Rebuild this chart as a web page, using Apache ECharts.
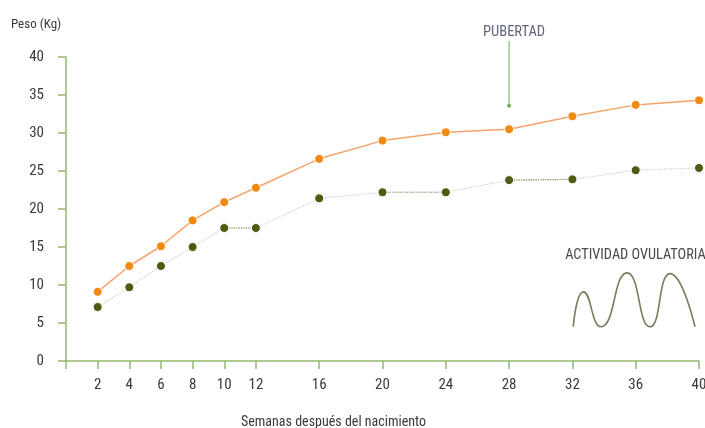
<!DOCTYPE html>
<html><head><meta charset="utf-8">
<script src="https://cdn.jsdelivr.net/npm/echarts@6/dist/echarts.min.js"></script>
<style>html,body{margin:0;padding:0;background:#fff}#c{width:705px;height:428px}</style>
</head><body><div id="c"></div>
<script>
var weeks = [2,4,6,8,10,12,16,20,24,28,32,36,40];
var pesoPuberal = [9.1,12.5,15.1,18.5,20.9,22.8,26.6,29.0,30.1,30.5,32.2,33.7,34.3];
var pesoOtra = [7.1,9.7,12.5,15.0,17.5,17.5,21.4,22.2,22.2,23.8,23.9,25.1,25.4];
var plateauStarts = [10,20,28];
var xTickLabels = [2,4,6,8,10,12,16,20,24,28,32,36,40];
var ovulX = [32.05,32.7,33.8,35.45,36.9,38.17,39.75];
var ovulY = [4.5,9.1,4.5,11.6,4.5,11.5,4.5];
var pubertadWeek = 28;

var FONT = "'Liberation Sans Narrow','Roboto Condensed','Liberation Sans',sans-serif";
var AX = '#93b86e';
var TXT = '#3a3a3a';

function pairs(xs, ys){ return xs.map(function(x,i){return [x, ys[i]];}); }
var plateauData = [];
plateauStarts.forEach(function(w){
  var i = weeks.indexOf(w);
  plateauData.push([weeks[i], pesoOtra[i]], [weeks[i+1], pesoOtra[i+1]], [weeks[i+1], '-']);
});

var chart = echarts.init(document.getElementById('c'), null, {renderer:'canvas'});
chart.setOption({
  animation:false,
  textStyle:{fontFamily:FONT},
  title:[
    {text:'Peso (Kg)', left:6, top:13, textStyle:{fontFamily:FONT, fontSize:13, fontWeight:'normal', color:TXT}},
    {text:'Semanas después del nacimiento', left:236, top:410, textStyle:{fontFamily:FONT, fontSize:14, fontWeight:'normal', color:TXT}}
  ],
  grid:{left:66, right:6, top:57, bottom:67, containLabel:false, outerBoundsMode:'none'},
  xAxis:{type:'value', min:0, max:40,
    axisLine:{show:true, onZero:false, lineStyle:{color:AX, width:1.5}},
    axisTick:{show:true, length:8, inside:false, customValues:[0].concat(xTickLabels), lineStyle:{color:AX, width:1.5}},
    axisLabel:{customValues:xTickLabels, margin:17, fontSize:15, color:TXT, fontFamily:FONT},
    splitLine:{show:false}},
  yAxis:{type:'value', min:0, max:40, interval:5,
    axisLine:{show:true, lineStyle:{color:AX, width:1.5}},
    axisTick:{show:true, length:8, lineStyle:{color:AX, width:1.5}},
    axisLabel:{margin:22, fontSize:15, color:TXT, fontFamily:FONT},
    splitLine:{show:false}},
  series:[
    {type:'line', data:pairs(weeks,pesoOtra), symbol:'circle', symbolSize:9, z:3, clip:false,
      itemStyle:{color:'#4c5c12', borderColor:'#fff', borderWidth:1},
      lineStyle:{color:'#cfcfc4', width:1.2, type:'dotted'}},
    {type:'line', data:plateauData, symbol:'none', z:2, connectNulls:false,
      lineStyle:{color:'#5b6a22', width:1.2, type:'dotted'}},
    {type:'line', data:pairs(weeks,pesoPuberal), symbol:'circle', symbolSize:9, z:4, clip:false,
      itemStyle:{color:'#f08a12', borderColor:'#fff', borderWidth:1},
      lineStyle:{color:'#f5a36a', width:1.5}},
    {type:'line', data:pairs(ovulX,ovulY), symbol:'none', smooth:0.55, z:2,
      lineStyle:{color:'#7a7a5c', width:1.6}}
  ]
});

var pTop = chart.convertToPixel({gridIndex:0}, [pubertadWeek, 40]);
var pBot = chart.convertToPixel({gridIndex:0}, [pubertadWeek, 33.6]);
var oTxt = chart.convertToPixel({gridIndex:0}, [ovulX[0], 14]);
chart.setOption({graphic:[
  {type:'text', x: pTop[0]+5, y: 25, style:{text:'PUBERTAD', align:'center', fontFamily:FONT, fontSize:14.5, fill:'#5f6678'}},
  {type:'line', shape:{x1:pTop[0], y1:41, x2:pBot[0], y2:pBot[1]}, style:{stroke:'#a3c384', lineWidth:1.5}},
  {type:'circle', shape:{cx:pBot[0], cy:pBot[1], r:2}, style:{fill:'#7da85a'}},
  {type:'text', x: oTxt[0]-8, y: 248, style:{text:'ACTIVIDAD OVULATORIA', fontFamily:FONT, fontSize:14.3, fill:'#4a4a4a'}}
]});
</script></body></html>
